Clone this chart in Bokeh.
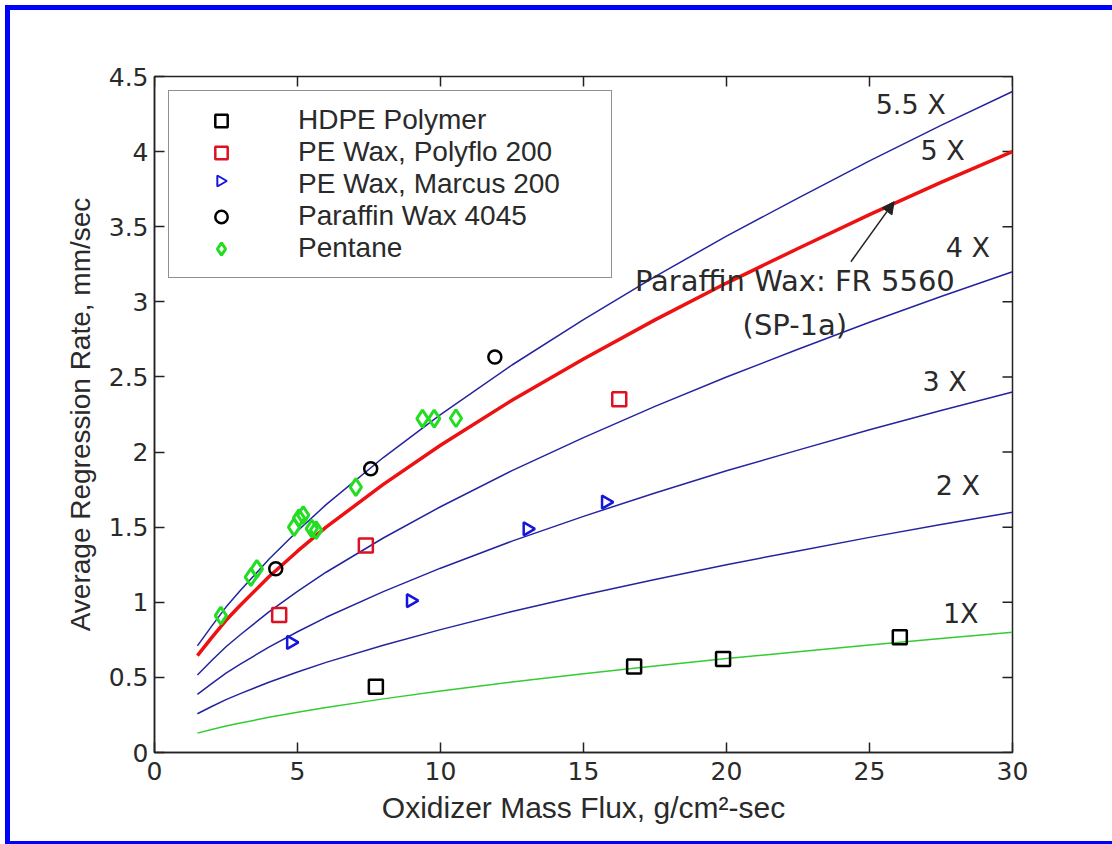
import math
from bokeh.plotting import figure
from bokeh.models import (FixedTicker, Legend, LegendItem, Arrow,
                          NormalHead, Label, Range1d)
from bokeh.embed import file_html
from bokeh.resources import INLINE

# ---------------- data ----------------
# model curves: base (1X) regression rate vs oxidizer mass flux, and multipliers
flux = [1.5, 2, 2.5, 3, 4, 5, 6, 8, 10, 12.5, 15, 17.5, 20, 22.5, 25, 27.5, 30]
base_rate = [0.129, 0.153, 0.176, 0.196, 0.234, 0.268, 0.300, 0.357, 0.409,
             0.469, 0.524, 0.576, 0.625, 0.671, 0.716, 0.759, 0.800]
multipliers = [1, 2, 3, 4, 5, 5.5]
curve_labels = ["1X", "2 X", "3 X", "4 X", "5 X", "5.5 X"]

series_names = ["HDPE Polymer", "PE Wax, Polyflo 200", "PE Wax, Marcus 200",
                "Paraffin Wax 4045", "Pentane"]
hdpe_x = [7.74, 16.77, 19.88, 26.06]
hdpe_y = [0.437, 0.573, 0.623, 0.767]
polyflo_x = [4.36, 7.39, 16.25]
polyflo_y = [0.916, 1.378, 2.351]
marcus_x = [4.77, 8.96, 13.04, 15.78]
marcus_y = [0.733, 1.011, 1.489, 1.667]
paraffin_x = [4.24, 7.56, 11.90]
paraffin_y = [1.223, 1.889, 2.633]
pentane_x = [2.32, 3.37, 3.58, 4.88, 5.05, 5.20, 5.50, 5.65, 7.04, 9.37, 9.78, 10.54]
pentane_y = [0.911, 1.167, 1.222, 1.50, 1.56, 1.58, 1.49, 1.48, 1.767, 2.222, 2.222, 2.225]

x_ticks = [0, 5, 10, 15, 20, 25, 30]
y_ticks = [0, 0.5, 1, 1.5, 2, 2.5, 3, 3.5, 4, 4.5]
y_tick_labels = ["0", "0.5", "1", "1.5", "2", "2.5", "3", "3.5", "4", "4.5"]

annotation_text = "Paraffin Wax: FR 5560"
annotation_sub = "(SP-1a)"

# ---------------- layout ----------------
W, H = 1112, 844
BL, BR, BT, BB = 154, 100, 76, 92
FW, FH = W - BL - BR, H - BT - BB
X0, X1, Y0, Y1 = 0, 30, 0, 4.5
px_x = FW / (X1 - X0)
px_y = FH / (Y1 - Y0)

p = figure(width=W, height=H, x_range=Range1d(X0, X1), y_range=Range1d(Y0, Y1),
           output_backend="svg", toolbar_location=None,
           min_border_left=BL, min_border_right=BR,
           min_border_top=BT, min_border_bottom=BB)
p.xgrid.visible = False
p.ygrid.visible = False
p.background_fill_color = "white"
p.border_fill_color = None
p.outline_line_color = "#222222"
p.outline_line_width = 1.5
# blue page frame (left, top, bottom)
p.styles = {"background-color": "white",
            "box-shadow": ("inset 5px 0 0 0 white, inset 0 5px 0 0 white, "
                           "inset 10px 0 0 0 #0000ff, inset 0 10px 0 0 #0000ff, "
                           "inset 0 -3px 0 0 #0000ff")}

TICK_FONT = "DejaVu Sans"
LABEL_FONT = "Liberation Sans"

p.xaxis.ticker = FixedTicker(ticks=x_ticks)
p.yaxis.ticker = FixedTicker(ticks=y_ticks)
p.yaxis.major_label_overrides = {t: s for t, s in zip(y_ticks, y_tick_labels)}

for ax in list(p.xaxis) + list(p.yaxis):
    ax.major_tick_in = 10
    ax.major_tick_out = 0
    ax.minor_tick_line_color = None
    ax.axis_line_color = "#222222"
    ax.axis_line_width = 1.5
    ax.major_tick_line_color = "#222222"
    ax.major_tick_line_width = 1.5
    ax.major_label_text_font = TICK_FONT
    ax.major_label_text_font_size = "25px"
    ax.major_label_text_color = "#2a2a2a"

p.xaxis.major_label_standoff = 9
p.yaxis.major_label_standoff = 6

xa = p.below[0]
xa.axis_label = "Oxidizer Mass Flux, g/cm\u00b2-sec"
xa.axis_label_text_font = LABEL_FONT
xa.axis_label_text_font_size = "30px"
xa.axis_label_text_font_style = "normal"
xa.axis_label_text_color = "#2a2a2a"
xa.axis_label_standoff = 8

ya = p.left[0]
ya.axis_label = "Average Regression Rate, mm/sec"
ya.axis_label_text_font = LABEL_FONT
ya.axis_label_text_font_size = "28px"
ya.axis_label_text_font_style = "normal"
ya.axis_label_text_color = "#2a2a2a"
ya.axis_label_standoff = 10

# ticks on the top and right sides of the box (pointing inwards)
tick_len = 10
p.segment(x0=x_ticks, y0=[Y1] * len(x_ticks), x1=x_ticks,
          y1=[Y1 - tick_len / px_y] * len(x_ticks),
          line_color="#222222", line_width=1.5)
p.segment(x0=[X1] * len(y_ticks), y0=y_ticks, x1=[X1 - tick_len / px_x] * len(y_ticks),
          y1=y_ticks, line_color="#222222", line_width=1.5)

# ---------------- curves ----------------
curve_colors = {1: "#33cc33", 5: "#ee1111"}
curve_widths = {5: 3.5}
order = [2, 3, 4, 5.5, 1, 5]
for m in order:
    p.line(flux, [b * m for b in base_rate],
           line_color=curve_colors.get(m, "#2424a0"),
           line_width=curve_widths.get(m, 1.5))

# ---------------- markers ----------------
MARCUS_COLOR = "#1515dd"
r_hdpe = p.scatter(hdpe_x, hdpe_y, marker="square", size=14, fill_color=None,
                   line_color="black", line_width=2.5)
r_poly = p.scatter(polyflo_x, polyflo_y, marker="square", size=14, fill_color=None,
                   line_color="#dd1122", line_width=2.5)
r_marc = p.scatter(marcus_x, marcus_y, marker="triangle", size=13, angle=-math.pi / 2,
                   fill_color=None, line_color=MARCUS_COLOR, line_width=2.5)
r_para = p.scatter(paraffin_x, paraffin_y, marker="circle", size=13, fill_color=None,
                   line_color="black", line_width=2.5)
r_pent = p.scatter(pentane_x, pentane_y, marker="diamond", size=17, fill_color=None,
                   line_color="#22dd22", line_width=3)
# legend proxy for the right-pointing triangle (legend glyphs are drawn unrotated)
r_marc_proxy = p.scatter([], [], marker="triangle", size=13, fill_alpha=0, line_alpha=0)

LEG_MARGIN, LEG_PAD, GLYPH_W, ROW_H, LABEL_STANDOFF = 14, 13, 78, 31, 38
legend = Legend(items=[LegendItem(label=n, renderers=[r]) for n, r in
                       zip(series_names, [r_hdpe, r_poly, r_marc_proxy, r_para, r_pent])],
                location="top_left", margin=LEG_MARGIN, padding=LEG_PAD,
                glyph_width=GLYPH_W, glyph_height=ROW_H, label_height=ROW_H,
                label_width=300, label_standoff=LABEL_STANDOFF, spacing=0,
                label_text_font=LABEL_FONT, label_text_font_size="28px",
                label_text_color="#2a2a2a",
                border_line_color="#222222", border_line_width=1.5,
                background_fill_alpha=0.0)
p.add_layout(legend)

# right-pointing triangle symbol at the legend's third glyph slot
# (the legend box is transparent; nothing else is drawn in that area)
row_idx = series_names.index("PE Wax, Marcus 200")
gx_px = LEG_MARGIN + LEG_PAD + GLYPH_W / 2
gy_px = LEG_MARGIN + LEG_PAD + ROW_H * (row_idx + 0.5)
p.scatter([X0 + gx_px / px_x], [Y1 - gy_px / px_y], marker="triangle", size=11,
          angle=-math.pi / 2, fill_color=None, line_color=MARCUS_COLOR,
          line_width=2)

# ---------------- curve labels ----------------
label_pos = {"1X": (28.19, 0.928), "2 X": (28.09, 1.778), "3 X": (27.63, 2.471),
             "4 X": (28.44, 3.365), "5 X": (27.56, 4.005), "5.5 X": (26.44, 4.311)}
for lab in curve_labels:
    lx, ly = label_pos[lab]
    p.add_layout(Label(x=lx, y=ly, text=lab, text_align="center", text_baseline="middle",
                       text_font="DejaVu Sans", text_font_size="27px",
                       text_color="#2a2a2a"))

p.add_layout(Label(x=22.39, y=3.138, text=annotation_text, text_align="center",
                   text_baseline="middle", text_font="DejaVu Sans",
                   text_font_size="29px", text_color="#2a2a2a"))
p.add_layout(Label(x=22.39, y=2.845, text=annotation_sub, text_align="center",
                   text_baseline="middle", text_font="DejaVu Sans",
                   text_font_size="29px", text_color="#2a2a2a"))
p.add_layout(Arrow(x_start=24.35, y_start=3.267, x_end=25.86, y_end=3.667,
                   line_color="#222222", line_width=1.5,
                   end=NormalHead(size=12, fill_color="#222222", line_color="#222222")))

open("out.html", "w").write(file_html(p, INLINE))
